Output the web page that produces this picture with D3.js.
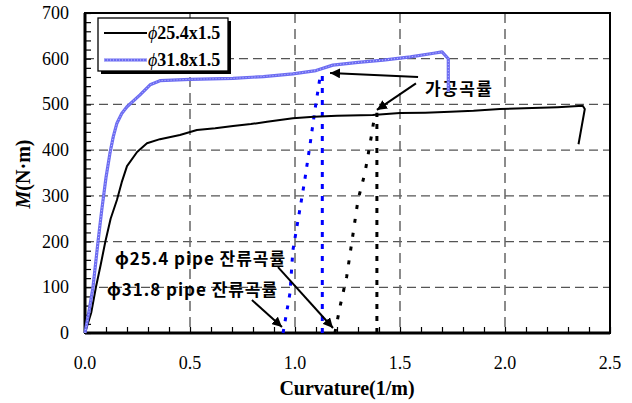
<!DOCTYPE html>
<html>
<head>
<meta charset="utf-8">
<script src="https://cdn.jsdelivr.net/npm/d3@7"></script>
<style>
  html, body { margin: 0; padding: 0; background: #fff; }
  svg { display: block; }
</style>
</head>
<body>
<svg id="chart" width="632" height="403"></svg>
<script>
// Moment–curvature curves for two pipe sizes
const pipe25 = [[0,0],[0.03,45],[0.052,100],[0.075,150],[0.097,200],[0.122,250],[0.152,291],[0.175,330],[0.2,365],[0.248,396],[0.295,415],[0.357,424],[0.452,433],[0.533,444],[0.62,448],[0.705,453],[0.79,457],[0.867,462],[0.99,470],[1.09,473],[1.2,475],[1.37,477],[1.5,481],[1.62,482],[1.74,484],[1.85,486],[1.976,490],[2.13,492],[2.25,494],[2.37,497],[2.38,490],[2.35,413]];
const pipe32 = [[0,0],[0.02,50],[0.038,100],[0.062,200],[0.08,270],[0.1,340],[0.119,394],[0.135,430],[0.152,459],[0.175,480],[0.2,495],[0.262,521],[0.31,543],[0.357,552],[0.5,555],[0.6,556],[0.705,557],[0.85,561],[0.99,567],[1.1,574],[1.18,586],[1.3,592],[1.42,597],[1.55,604],[1.66,612],[1.70,615],[1.73,600],[1.73,527]];

// Residual-curvature unloading paths (dotted)
const resid32Slant = [[0.943,0],[0.976,87],[0.99,181],[1.02,262],[1.045,330],[1.07,407],[1.095,488],[1.12,562]];
const resid32Vert  = [[1.13,0],[1.13,568]];
const resid25Slant = [[1.19,0],[1.214,57],[1.246,123],[1.27,197],[1.3,291],[1.333,350],[1.366,437],[1.38,478]];
const resid25Vert  = [[1.39,0],[1.39,482]];

const xTicks = [0, 0.5, 1.0, 1.5, 2.0, 2.5];
const yTicks = [0, 100, 200, 300, 400, 500, 600, 700];
const legendLabels = ["25.4x1.5", "31.8x1.5"];

const svg = d3.select("#chart");
const m = { left: 85, right: 610, top: 13, bottom: 333 };
const x = d3.scaleLinear().domain([0, 2.5]).range([m.left, m.right]);
const y = d3.scaleLinear().domain([0, 700]).range([m.bottom, m.top]);

const serif = "'Liberation Serif', 'Times New Roman', serif";
const kr = "'Noto Sans CJK KR', 'Noto Sans', sans-serif";

// Grid
const grid = svg.append("g");
grid.selectAll("line.h").data(yTicks.filter(v => v > 0 && v < 700)).join("line")
  .attr("x1", m.left).attr("x2", m.right)
  .attr("y1", d => y(d)).attr("y2", d => y(d))
  .attr("stroke", "#555").attr("stroke-width", 1.3).attr("stroke-dasharray", "9,5");
grid.selectAll("line.v").data(xTicks.filter(v => v > 0 && v < 2.5)).join("line")
  .attr("y1", m.top).attr("y2", m.bottom)
  .attr("x1", d => x(d)).attr("x2", d => x(d))
  .attr("stroke", "#666").attr("stroke-width", 1.5).attr("stroke-dasharray", "10,6");

// Axes with inward ticks
const xAxis = svg.append("g").attr("transform", `translate(0,${m.bottom})`)
  .call(d3.axisBottom(x).tickValues(d3.range(0, 2.51, 0.1)).tickSize(-6).tickFormat(""));
const yAxis = svg.append("g").attr("transform", `translate(${m.left},0)`)
  .call(d3.axisLeft(y).tickValues(d3.range(0, 701, 20)).tickSize(-6).tickFormat(""));
[xAxis, yAxis].forEach(a => {
  a.select(".domain").remove();
  a.selectAll(".tick line").attr("stroke", "#000").attr("stroke-width", 1.2);
});

// Tick labels
svg.append("g").selectAll("text").data(xTicks).join("text")
  .attr("x", d => x(d)).attr("y", 369)
  .attr("text-anchor", "middle").attr("font-family", serif).attr("font-size", 18)
  .text(d => d.toFixed(1));
svg.append("g").selectAll("text").data(yTicks).join("text")
  .attr("x", 69).attr("y", d => y(d) + 6)
  .attr("text-anchor", "end").attr("font-family", serif).attr("font-size", 18)
  .text(d => d);

// Frame
svg.append("rect").attr("x", m.left).attr("y", m.top)
  .attr("width", m.right - m.left).attr("height", m.bottom - m.top)
  .attr("fill", "none").attr("stroke", "#000").attr("stroke-width", 2);
svg.append("line").attr("x1", m.left).attr("x2", m.left).attr("y1", m.top).attr("y2", m.bottom)
  .attr("stroke", "#000").attr("stroke-width", 3);
svg.append("line").attr("x1", m.left).attr("x2", m.right).attr("y1", m.bottom).attr("y2", m.bottom)
  .attr("stroke", "#000").attr("stroke-width", 3);

// Axis titles
svg.append("text").attr("x", 347).attr("y", 395).attr("text-anchor", "middle")
  .attr("font-family", serif).attr("font-size", 20).attr("font-weight", "bold")
  .text("Curvature(1/m)");
const yl = svg.append("text").attr("transform", "translate(30,174) rotate(-90)")
  .attr("text-anchor", "middle").attr("font-family", serif).attr("font-size", 20).attr("font-weight", "bold");
yl.append("tspan").attr("font-style", "italic").text("M");
yl.append("tspan").text("(N\u00B7m)");

// Annotation texts (under the curves)
const notes = [
  { t: "\uAC00\uACF5\uACE1\uB960", x: 1.619, y: 538, w: 67 },
  { t: "\u03D525.4 pipe \uC794\uB958\uACE1\uB960", x: 0.143, y: 165, w: 170 },
  { t: "\u03D531.8 pipe \uC794\uB958\uACE1\uB960", x: 0.105, y: 97, w: 170 }
];
svg.append("g").selectAll("text").data(notes).join("text")
  .attr("x", d => x(d.x)).attr("y", d => y(d.y))
  .attr("dominant-baseline", "central")
  .attr("font-family", kr).attr("font-size", 17).attr("font-weight", "bold")
  .attr("textLength", d => d.w).attr("lengthAdjust", "spacing")
  .text(d => d.t);

const line = d3.line().x(d => x(d[0])).y(d => y(d[1]));

// Dotted unloading paths
const dotted = (data, color, dash) => svg.append("path").datum(data).attr("d", line)
  .attr("fill", "none").attr("stroke", color).attr("stroke-width", 3).attr("stroke-dasharray", dash);
dotted(resid32Slant, "#0000ff", "4,8");
dotted(resid32Vert, "#0000ff", "5,7");
dotted(resid25Slant, "#000", "4,10");
dotted(resid25Vert, "#000", "5,7");

// Main curves
svg.append("path").datum(pipe25).attr("d", line)
  .attr("fill", "none").attr("stroke", "#000").attr("stroke-width", 2).attr("stroke-linejoin", "round");
svg.append("path").datum(pipe32).attr("d", line)
  .attr("fill", "none").attr("stroke", "#6c6cf2").attr("stroke-width", 3.2).attr("stroke-linejoin", "round");
svg.append("path").datum(pipe32).attr("d", line)
  .attr("fill", "none").attr("stroke", "#c4c4ff").attr("stroke-width", 1).attr("stroke-dasharray", "1,2");

// Arrows
const defs = svg.append("defs");
defs.append("marker").attr("id", "ah").attr("viewBox", "0 0 10 10")
  .attr("refX", 10).attr("refY", 5).attr("markerWidth", 5).attr("markerHeight", 5)
  .attr("markerUnits", "strokeWidth").attr("orient", "auto")
  .append("path").attr("d", "M0,0 L10,5 L0,10 Z").attr("fill", "#000");

const arrows = [
  [[1.586, 560], [1.167, 569]],
  [[1.576, 546], [1.39, 488]],
  [[0.919, 144], [1.181, 11]],
  [[0.795, 72], [0.938, 13]]
];
svg.append("g").selectAll("line").data(arrows).join("line")
  .attr("x1", d => x(d[0][0])).attr("y1", d => y(d[0][1]))
  .attr("x2", d => x(d[1][0])).attr("y2", d => y(d[1][1]))
  .attr("stroke", "#000").attr("stroke-width", 2).attr("marker-end", "url(#ah)");

// Legend
const lg = svg.append("g");
lg.append("rect").attr("x", 101).attr("y", 21).attr("width", 130).attr("height", 53).attr("fill", "#000");
lg.append("rect").attr("x", 98).attr("y", 18).attr("width", 130).attr("height", 53)
  .attr("fill", "#fff").attr("stroke", "#000").attr("stroke-width", 1.3);
lg.append("line").attr("x1", 104).attr("x2", 147).attr("y1", 33).attr("y2", 33)
  .attr("stroke", "#000").attr("stroke-width", 2);
lg.append("line").attr("x1", 104).attr("x2", 147).attr("y1", 60).attr("y2", 60)
  .attr("stroke", "#6c6cf2").attr("stroke-width", 3.2);
lg.append("line").attr("x1", 104).attr("x2", 147).attr("y1", 60).attr("y2", 60)
  .attr("stroke", "#c4c4ff").attr("stroke-width", 1).attr("stroke-dasharray", "1,2");
const lt = lg.selectAll("text").data(legendLabels).join("text")
  .attr("x", 148).attr("y", (d, i) => 39 + i * 27)
  .attr("font-family", serif).attr("font-size", 18).attr("font-weight", "bold");
lt.append("tspan").attr("font-style", "italic").attr("font-weight", "normal").text("\u03D5");
lt.append("tspan").text(d => d);
</script>
</body>
</html>
